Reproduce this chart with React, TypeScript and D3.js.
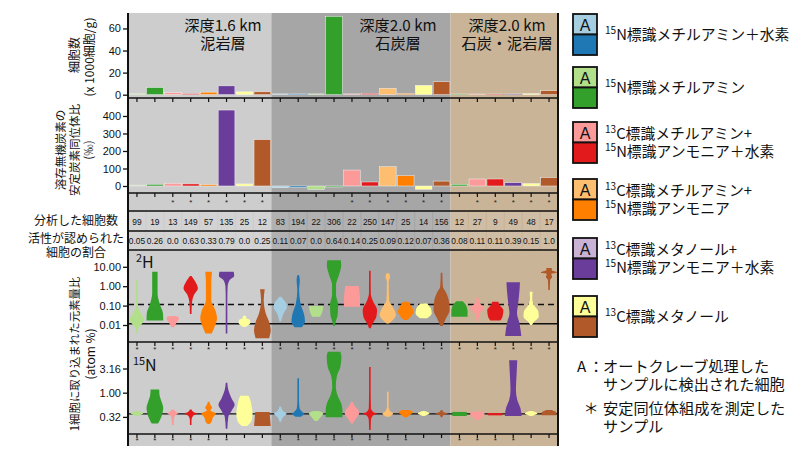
import { useEffect, useRef } from "react";
import * as d3 from "d3";

// one entry per column, left to right (colour key of the treatment)
const treatments = [
  "lg", "g", "lp", "r", "o", "v", "y", "br",
  "lb", "b", "lg", "g", "lp", "r", "lo", "o", "y", "br",
  "g", "lp", "r", "v", "y", "br",
];
const sectionSizes = [8, 10, 6];
const sectionTitles = [
  ["深度1.6 km", "泥岩層"],
  ["深度2.0 km", "石炭層"],
  ["深度2.0 km", "石炭・泥岩層"],
];

// cell density (x 1000 cells/g)
const cellCounts = [0.8, 6.5, 1.8, 1.0, 2.3, 8, 2.6, 2.6, 0.7, 0.7, 0.7, 71, 0.7, 1.2, 5.8, 1.1, 8.5, 11.7, 0.6, 0.6, 0.6, 0.7, 0.9, 3.6];
// d13C of DIC (permil)
const d13C = [5, 10, 15, 12, 8, 434, 12, 265, -10, -8, -19, -6, 91, 23, 110, 59, -19, 28, 10, 40, 40, 19, 14, 48];
const cellsAnalyzed = [99, 19, 13, 149, 57, 135, 25, 12, 83, 194, 22, 306, 22, 250, 147, 25, 14, 156, 12, 27, 9, 49, 48, 17];
const activeRatio = ["0.05", "0.26", "0.0", "0.63", "0.33", "0.79", "0.0", "0.25", "0.11", "0.07", "0.0", "0.64", "0.14", "0.25", "0.09", "0.12", "0.07", "0.36", "0.08", "0.11", "0.11", "0.39", "0.15", "1.0"];

// violin outlines: [atom %, relative density] from top to bottom
const violins2H: [number, number][][] = [
  [[2.1, 0.04], [0.087, 0.11], [0.033, 0.55], [0.018, 0.8], [0.01, 0.45], [0.0068, 0.15], [0.0037, 0.04]],
  [[5.6, 0.3], [2.0, 0.3], [0.43, 0.3], [0.13, 0.52], [0.04, 0.9], [0.017, 0.93]],
  [[0.029, 0.3], [0.025, 0.65], [0.02, 0.67], [0.014, 0.45], [0.0076, 0.15]],
  [[3.4, 0.04], [1.7, 0.52], [0.78, 0.8], [0.36, 0.37], [0.16, 0.15], [0.037, 0.07]],
  [[5.6, 0.37], [1.4, 0.3], [0.19, 0.3], [0.059, 0.74], [0.022, 0.93], [0.0068, 0.6], [0.0037, 0.35]],
  [[5.6, 0.8], [3.4, 0.85], [2.1, 0.35], [0.93, 0.12], [0.19, 0.07], [0.027, 0.07], [0.0037, 0.05]],
  [[0.03, 0.1], [0.026, 0.2], [0.022, 0.2], [0.018, 0.6], [0.013, 0.65], [0.0095, 0.4], [0.008, 0.1]],
  [[0.69, 0.26], [0.19, 0.15], [0.04, 0.37], [0.012, 0.8], [0.0055, 0.93], [0.0021, 0.75]],
  [[0.29, 0.05], [0.13, 0.65], [0.087, 0.75], [0.04, 0.37], [0.022, 0.18], [0.015, 0.05]],
  [[3.8, 0.08], [2.1, 0.18], [0.63, 0.1], [0.13, 0.26], [0.033, 0.67], [0.015, 0.75], [0.0076, 0.4]],
  [[0.095, 0.8], [0.049, 0.7], [0.027, 0.45]],
  [[22, 0.75], [12, 0.8], [3.8, 0.55], [1.15, 0.22], [0.36, 0.22], [0.11, 0.45], [0.033, 0.4], [0.014, 0.17], [0.0089, 0.05]],
  [[1.02, 0.75], [0.43, 0.85], [0.19, 0.9], [0.087, 0.9]],
  [[6.3, 0.07], [0.43, 0.1], [0.19, 0.3], [0.059, 0.8], [0.027, 0.72], [0.012, 0.3], [0.0068, 0.05]],
  [[4.6, 0.15], [3.1, 0.25], [1.7, 0.1], [0.19, 0.15], [0.087, 0.55], [0.033, 0.9], [0.017, 0.5], [0.012, 0.15]],
  [[0.16, 0.3], [0.087, 0.65], [0.049, 0.9], [0.027, 0.55], [0.018, 0.2]],
  [[0.13, 0.35], [0.072, 0.8], [0.04, 0.9], [0.022, 0.4]],
  [[5.0, 0.05], [0.93, 0.15], [0.52, 0.45], [0.19, 0.8], [0.059, 0.9], [0.022, 0.5], [0.0089, 0.12]],
  [[0.17, 0.35], [0.11, 0.7], [0.049, 0.9], [0.027, 0.9]],
  [[0.29, 0.05], [0.13, 0.3], [0.072, 0.8], [0.04, 0.3], [0.015, 0.05]],
  [[0.16, 0.35], [0.11, 0.45], [0.059, 0.9], [0.027, 0.8], [0.017, 0.55]],
  [[1.6, 0.75], [0.63, 0.7], [0.13, 0.55], [0.04, 0.42], [0.012, 0.7], [0.0027, 0.9]],
  [[0.52, 0.17], [0.24, 0.12], [0.11, 0.3], [0.049, 0.8], [0.027, 0.85], [0.015, 0.35], [0.01, 0.05]],
  [[8.7, 0.3], [6.9, 0.3], [5.1, 0.9], [4.3, 0.25], [3.0, 0.35], [2.1, 0.12], [0.63, 0.08]],
];
const violins15N: [number, number][][] = [
  [[0.42, 0.05], [0.375, 0.7], [0.33, 0.05]],
  [[1.17, 0.48], [0.9, 0.52], [0.65, 0.75], [0.48, 0.93], [0.35, 0.8], [0.27, 0.55], [0.23, 0.35]],
  [[0.45, 0.1], [0.41, 0.3], [0.375, 0.6], [0.34, 0.3], [0.3, 0.15], [0.25, 0.12], [0.215, 0.05]],
  [[0.45, 0.08], [0.4, 0.3], [0.37, 0.7], [0.33, 0.25], [0.27, 0.08], [0.215, 0.05]],
  [[0.65, 0.05], [0.56, 0.2], [0.49, 0.38], [0.43, 0.2], [0.375, 0.8], [0.3, 0.45], [0.245, 0.3], [0.225, 0.05]],
  [[1.61, 0.05], [1.14, 0.2], [0.77, 0.55], [0.56, 0.9], [0.42, 0.55], [0.32, 0.2], [0.18, 0.05]],
  [[0.86, 0.45], [0.71, 0.65], [0.52, 0.8], [0.375, 0.9], [0.27, 0.8], [0.205, 0.3]],
  [[0.4, 0.8], [0.3, 0.85], [0.205, 0.93]],
  [[0.52, 0.05], [0.42, 0.3], [0.37, 0.7], [0.31, 0.3], [0.25, 0.05]],
  [[1.98, 0.05], [0.71, 0.07], [0.48, 0.15], [0.4, 0.45], [0.37, 0.7], [0.32, 0.3]],
  [[0.42, 0.3], [0.375, 0.8], [0.31, 0.5], [0.26, 0.15]],
  [[7.0, 0.7], [5.5, 0.82], [3.4, 0.7], [2.14, 0.3], [1.33, 0.2], [0.9, 0.38], [0.6, 0.8], [0.44, 0.93], [0.31, 0.93]],
  [[0.65, 0.05], [0.54, 0.3], [0.44, 0.7], [0.37, 0.8], [0.3, 0.5], [0.23, 0.05]],
  [[3.4, 0.05], [1.14, 0.06], [0.48, 0.12], [0.4, 0.35], [0.37, 0.8], [0.33, 0.3], [0.27, 0.12], [0.17, 0.05]],
  [[1.05, 0.05], [0.52, 0.07], [0.42, 0.25], [0.37, 0.6], [0.32, 0.2]],
  [[0.44, 0.35], [0.4, 0.8], [0.35, 0.5], [0.31, 0.15]],
  [[0.42, 0.05], [0.375, 0.65], [0.33, 0.05]],
  [[0.44, 0.05], [0.4, 0.2], [0.37, 0.7], [0.34, 0.2], [0.31, 0.05]],
  [[0.4, 0.8], [0.33, 0.8]],
  [[0.41, 0.7], [0.36, 0.8], [0.31, 0.5], [0.27, 0.1]],
  [[0.38, 0.8], [0.34, 0.8]],
  [[4.7, 0.45], [2.5, 0.38], [1.14, 0.3], [0.71, 0.45], [0.48, 0.8], [0.33, 0.93]],
  [[0.42, 0.1], [0.375, 0.7], [0.33, 0.1]],
  [[0.44, 0.3], [0.39, 0.8], [0.34, 0.8]],
];

const countTicks = [0, 20, 40, 60];
const d13CTicks = [0, 100, 200, 300, 400];
const h2Ticks = [0.01, 0.1, 1, 10];
const n15Ticks = [0.316, 1, 3.16];
const h2Natural = 0.0115;
const h2Threshold = 0.115;
const n15Natural = 0.366;

const legendItems = [
  { light: "lb", dark: "b", lines: ["^15N標識メチルアミン＋水素"] },
  { light: "lg", dark: "g", lines: ["^15N標識メチルアミン"] },
  { light: "lp", dark: "r", lines: ["^13C標識メチルアミン+", "^15N標識アンモニア＋水素"] },
  { light: "lo", dark: "o", lines: ["^13C標識メチルアミン+", "^15N標識アンモニア"] },
  { light: "lv", dark: "v", lines: ["^13C標識メタノール+", "^15N標識アンモニア＋水素"] },
  { light: "y", dark: "br", lines: ["^13C標識メタノール"] },
];

const colorOf: Record<string, string> = {
  lb: "#a6cee3", b: "#1f78b4", lg: "#b2df8a", g: "#33a02c", lp: "#fb9a99", r: "#e31a1c",
  lo: "#fdbf6f", o: "#ff7f00", lv: "#cab2d6", v: "#6a3d9a", y: "#ffff99", br: "#b15928",
};
const sectionFill = ["#cdcdcd", "#a6a6a6", "#c9b498"];
const JP = "'Noto Sans CJK JP', 'Noto Sans', sans-serif";
const SANS = "'Liberation Sans', Arial, sans-serif";

function supText(g: any, x: number, y: number, str: string, fs: number, anchor = "start") {
  const t = g.append("text").attr("x", x).attr("y", y).attr("font-size", fs)
    .attr("text-anchor", anchor).attr("font-family", JP).attr("fill", "#111");
  let shifted = false;
  str.split(/(\^\d+)/).filter(Boolean).forEach((p) => {
    if (p.startsWith("^")) {
      t.append("tspan").attr("font-size", fs * 0.68).attr("dy", -fs * 0.38).text(p.slice(1));
      shifted = true;
    } else {
      const ts = t.append("tspan").text(p);
      if (shifted) { ts.attr("dy", fs * 0.38); shifted = false; }
    }
  });
  return t;
}

export default function App() {
  const ref = useRef<SVGSVGElement>(null);

  useEffect(() => {
    const svg = d3.select(ref.current);
    svg.selectAll("*").remove();

    const left = 128, right = 558, top = 13, bottom = 446;
    const x = d3.scaleBand<number>().domain(d3.range(treatments.length)).range([left, right]);
    const bw = x.bandwidth();
    const cx = (i: number) => (x(i) as number) + bw / 2;

    const yCount = d3.scaleLinear().domain([-3, 74]).range([98, 13]);
    const yD13 = d3.scaleLinear().domain([-40, 497]).range([193, 99]);
    const yH = d3.scaleLog().domain([0.00133, 73.4]).range([342, 250]);
    const yN = d3.scaleLog().domain([0.14, 11.15]).range([434, 342]);

    // section backgrounds
    let start = 0;
    sectionSizes.forEach((n, s) => {
      const x0 = x(start) as number;
      const x1 = (x(start + n - 1) as number) + bw;
      svg.append("rect").attr("x", x0).attr("y", top).attr("width", x1 - x0)
        .attr("height", bottom - top).attr("fill", sectionFill[s]);
      start += n;
    });

    // table cells
    [[211, 231], [231, 250]].forEach(([y0, y1]) => {
      svg.append("g").selectAll("rect").data(treatments).join("rect")
        .attr("x", (_, i) => (x(i) as number) + 0.6).attr("width", bw - 1.2)
        .attr("y", y0 + 1).attr("height", y1 - y0 - 2)
        .attr("fill", "#fff").attr("opacity", 0.13);
    });
    const table = svg.append("g").attr("font-family", SANS).attr("font-size", 8.4)
      .attr("text-anchor", "middle").attr("fill", "#111");
    table.selectAll(".n").data(cellsAnalyzed).join("text").attr("class", "n")
      .attr("x", (_, i) => cx(i)).attr("y", 224.5).text((d) => d);
    table.selectAll(".r").data(activeRatio).join("text").attr("class", "r")
      .attr("x", (_, i) => cx(i)).attr("y", 244).text((d) => d);

    // bars
    const bars = (vals: number[], y: any) =>
      svg.append("g").selectAll("rect").data(vals).join("rect")
        .attr("x", (_, i) => (x(i) as number) + 0.6).attr("width", bw - 1.2)
        .attr("y", (d) => y(Math.max(d, 0))).attr("height", (d) => Math.abs(y(d) - y(0)))
        .attr("fill", (_, i) => colorOf[treatments[i]])
        .attr("stroke", "#f2f2f2").attr("stroke-width", 0.5);
    bars(cellCounts, yCount);
    bars(d13C, yD13);

    // reference lines in the isotope panels
    const hline = (y: number, dash: string | null, w: number) =>
      svg.append("line").attr("x1", left).attr("x2", right).attr("y1", y).attr("y2", y)
        .attr("stroke", "#111").attr("stroke-width", w).attr("stroke-dasharray", dash);
    hline(yH(h2Natural), null, 1.5);
    hline(yH(h2Threshold), "6,4", 1.5);
    hline(yN(n15Natural), null, 1.3);

    // violins
    const W = 9;
    const violin = (data: [number, number][][], y: any) => {
      const g = svg.append("g");
      data.forEach((pts, i) => {
        const c = cx(i);
        const area = d3.area<[number, number]>()
          .y((d) => y(d[0]))
          .x0((d) => c - Math.max(0.8, d[1] * W))
          .x1((d) => c + Math.max(0.8, d[1] * W))
          .curve(d3.curveMonotoneY);
        g.append("path").attr("d", area(pts)).attr("fill", colorOf[treatments[i]]);
      });
    };
    violin(violins2H, yH);
    violin(violins15N, yN);

    // frame lines
    [98, 193, 211, 231, 250, 342, 434].forEach((y) => hline(y, null, 1.6));
    [left, right].forEach((xv) =>
      svg.append("line").attr("x1", xv).attr("x2", xv).attr("y1", top).attr("y2", bottom)
        .attr("stroke", "#111").attr("stroke-width", 2));

    // column ticks and asterisks
    const colAxis = d3.axisBottom(x).tickSize(4).tickFormat(() => "");
    [98, 193, 342, 434].forEach((y) => {
      svg.append("g").attr("transform", `translate(0,${y})`).call(colAxis as any)
        .call((g: any) => g.select(".domain").remove())
        .call((g: any) => g.selectAll("line").attr("stroke", "#111").attr("stroke-width", 1.2));
    });
    const stars = (y: number, keep: (t: string) => boolean) =>
      svg.append("g").selectAll("text").data(treatments).join("text")
        .attr("x", (_, i) => cx(i)).attr("y", y).attr("text-anchor", "middle")
        .attr("font-family", SANS).attr("font-size", 8).attr("fill", "#222")
        .text((t) => (keep(t) ? "*" : ""));
    stars(205, (t) => !["lb", "b", "lg", "g"].includes(t));
    stars(352, () => true);
    stars(443, (t) => !["y", "br"].includes(t));

    // y axes
    const yAxis = (y: any, ticks: number[], fmt: (d: any) => string) => {
      svg.append("g").attr("transform", `translate(${left},0)`)
        .call(d3.axisLeft(y).tickValues(ticks).tickSize(5).tickPadding(2).tickFormat(fmt) as any)
        .call((g: any) => g.select(".domain").remove())
        .call((g: any) => g.selectAll("line").attr("stroke", "#111").attr("stroke-width", 1.3))
        .call((g: any) => g.selectAll("text").attr("font-family", SANS).attr("font-size", 11).attr("fill", "#111"));
    };
    yAxis(yCount, countTicks, (d) => String(d));
    yAxis(yD13, d13CTicks, (d) => String(d));
    yAxis(yH, h2Ticks, d3.format(".2f"));
    yAxis(yN, n15Ticks, d3.format(".2f"));

    // section titles
    const titleX = [223, 398, 507];
    sectionTitles.forEach((lines, s) => {
      lines.forEach((t, k) => {
        svg.append("text").attr("x", titleX[s]).attr("y", 30.5 + k * 18)
          .attr("text-anchor", "middle").attr("font-family", JP).attr("font-size", 15.2)
          .attr("fill", "#111").text(t);
      });
    });

    // panel labels
    supText(svg, 136, 268, "^2H", 16);
    supText(svg, 133, 371, "^15N", 16);

    // rotated axis titles
    const vtext = (xv: number, yv: number, t: string, fs: number) =>
      svg.append("text").attr("transform", `translate(${xv},${yv}) rotate(-90)`)
        .attr("text-anchor", "middle").attr("dominant-baseline", "central")
        .attr("font-family", JP).attr("font-size", fs).attr("fill", "#111").text(t);
    vtext(73, 55, "細胞数", 12);
    vtext(88, 57, "(x 1000細胞/g)", 12);
    vtext(60, 150, "溶存無機炭素の", 11.5);
    vtext(73.5, 150, "安定炭素同位体比", 11.5);
    vtext(88, 150, "(‰)", 11.5);
    vtext(74, 354, "1細胞に取り込まれた元素量比", 11.4);
    vtext(89, 354, "(atom %)", 12);

    // table row labels
    const tl = (yv: number, t: string) =>
      svg.append("text").attr("x", 76).attr("y", yv).attr("text-anchor", "middle")
        .attr("font-family", JP).attr("font-size", 12).attr("fill", "#111").text(t);
    tl(224.5, "分析した細胞数");
    tl(243, "活性が認められた");
    tl(257, "細胞の割合");

    // legend
    const boxTops = [14, 67, 122, 179, 238, 296];
    const boxX = 573, boxW = 24, half = 20.5;
    legendItems.forEach((it, k) => {
      const t0 = boxTops[k];
      svg.append("rect").attr("x", boxX).attr("y", t0).attr("width", boxW).attr("height", half)
        .attr("fill", colorOf[it.light]).attr("stroke", "#111").attr("stroke-width", 1.8);
      svg.append("rect").attr("x", boxX).attr("y", t0 + half).attr("width", boxW).attr("height", half)
        .attr("fill", colorOf[it.dark]).attr("stroke", "#111").attr("stroke-width", 1.8);
      svg.append("text").attr("x", boxX + boxW / 2).attr("y", t0 + half - 4)
        .attr("text-anchor", "middle").attr("font-family", SANS).attr("font-size", 16)
        .attr("fill", "#111").text("A");
      const mid = t0 + half;
      it.lines.forEach((ln, j) => {
        supText(svg, 605, mid + 5 + (j - (it.lines.length - 1) / 2) * 18, ln, 14.8);
      });
    });

    const note = (xv: number, yv: number, t: string, anchor = "start") =>
      svg.append("text").attr("x", xv).attr("y", yv).attr("text-anchor", anchor)
        .attr("font-family", JP).attr("font-size", 15.2).attr("fill", "#111").text(t);
    note(577, 371.5, "A");
    note(596, 371.5, "：", "middle");
    note(603, 371.5, "オートクレーブ処理した");
    note(603, 389.5, "サンプルに検出された細胞");
    note(591, 414, "＊", "middle");
    note(603, 414, "安定同位体組成を測定した");
    note(603, 432, "サンプル");
  }, []);

  return (
    <svg ref={ref} width={800} height={450}
      style={{ position: "absolute", left: 0, top: 0, background: "#fff" }} />
  );
}
